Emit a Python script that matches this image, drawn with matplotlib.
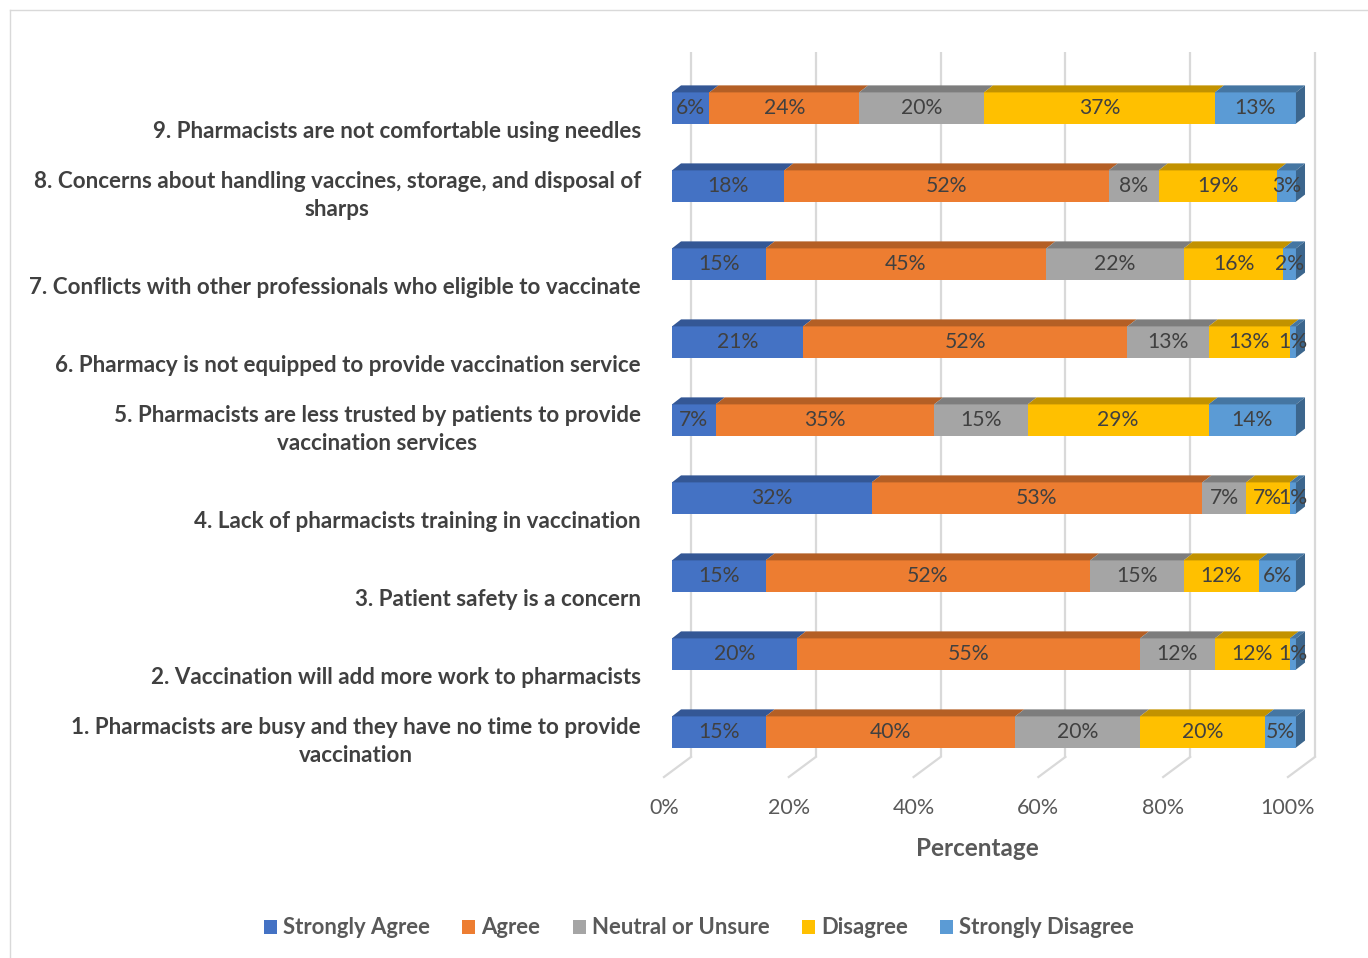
import matplotlib
matplotlib.use("Agg")
import matplotlib.pyplot as plt
from matplotlib.patches import Polygon, Patch
from matplotlib.colors import to_rgb
import numpy as np

# Survey items, bottom (1) to top (9)
items = [
    "1. Pharmacists are busy and they have no time to provide\nvaccination",
    "2. Vaccination will add more work to pharmacists",
    "3. Patient safety is a concern",
    "4. Lack of pharmacists training in vaccination",
    "5. Pharmacists are less trusted by patients to provide\nvaccination services",
    "6. Pharmacy is not equipped to provide vaccination service",
    "7. Conflicts with other professionals who eligible to vaccinate",
    "8. Concerns about handling vaccines, storage, and disposal of\nsharps",
    "9. Pharmacists are not comfortable using needles",
]
series_names = ["Strongly Agree", "Agree", "Neutral or Unsure", "Disagree", "Strongly Disagree"]
strongly_agree = [15, 20, 15, 32, 7, 21, 15, 18, 6]
agree = [40, 55, 52, 53, 35, 52, 45, 52, 24]
neutral = [20, 12, 15, 7, 15, 13, 22, 8, 20]
disagree = [20, 12, 12, 7, 29, 13, 16, 19, 37]
strongly_disagree = [5, 1, 6, 1, 14, 1, 2, 3, 13]
x_ticks = [0, 20, 40, 60, 80, 100]

colors = ["#4472C4", "#ED7D31", "#A5A5A5", "#FFC000", "#5B9BD5"]


def shade(c, f):
    r, g, b = to_rgb(c)
    return (r * f, g * f, b * f)


plt.rcParams['font.family'] = ['Lato', 'DejaVu Sans']

fig = plt.figure(figsize=(13.68, 9.58), dpi=100)
ax = fig.add_axes([659.5 / 1368, 1 - 810 / 958, 673.9 / 1368, 780 / 958])
ax.set_xlim(-2, 106)
ax.set_ylim(-1, 9)
ax.axis('off')

# 3D-ish offsets in data units
bar_h = 0.4
bdx, bdy = 1.45, 0.09          # bar depth
back_dx, front_dx = 3.05, -1.28
floor_back_y, floor_front_y, wall_top = -0.32, -0.577, 8.72
grid_col = "#D9D9D9"

# back wall gridlines and floor lines
for t in x_ticks:
    ax.plot([t + back_dx, t + back_dx], [floor_back_y, wall_top], color=grid_col, lw=1.6, zorder=0.5,
            solid_capstyle='butt')
    ax.plot([t + back_dx, t + front_dx], [floor_back_y, floor_front_y], color=grid_col, lw=1.6, zorder=0.5)
    ax.text(t + front_dx, -0.975, f"{t}%", ha='center', va='center', fontsize=15.5, color="#595959")

ax.text(48.9, -1.5, "Percentage", ha='center', va='center', fontsize=17.5,
        fontweight='bold', color="#595959", clip_on=False)

data = np.array([strongly_agree, agree, neutral, disagree, strongly_disagree], dtype=float)
ypos = np.arange(len(items))
lefts = np.zeros(len(items))
for k in range(len(series_names)):
    vals = data[k]
    ax.barh(ypos, vals, left=lefts, height=bar_h, color=colors[k], zorder=2, linewidth=0)
    for i, (l, w) in enumerate(zip(lefts, vals)):
        top = i + bar_h / 2
        ax.add_patch(Polygon([(l, top), (l + w, top), (l + w + bdx, top + bdy), (l + bdx, top + bdy)],
                             closed=True, facecolor=shade(colors[k], 0.76), edgecolor='none', zorder=2))
        ax.text(l + w / 2, i, f"{int(w)}%", ha='center', va='center', fontsize=15.2,
                color="#404040", zorder=4)
    lefts = lefts + vals

# right side face of each bar
for i in ypos:
    r = lefts[i]
    bot, top = i - bar_h / 2, i + bar_h / 2
    ax.add_patch(Polygon([(r, bot), (r, top), (r + bdx, top + bdy), (r + bdx, bot + bdy)],
                         closed=True, facecolor=shade(colors[-1], 0.66), edgecolor='none', zorder=3))

# category labels
for i, lab in enumerate(items):
    ax.text(-4.97, i - 0.39, lab, ha='right', va='baseline', multialignment='center',
            fontsize=16.1, fontweight='bold', color="#404040", linespacing=1.46, clip_on=False)

handles = [Patch(facecolor=c, edgecolor='none') for c in colors]
fig.legend(handles, series_names, loc='center', bbox_to_anchor=(699 / 1368, 1 - 928 / 958), ncol=5,
           frameon=False, handlelength=0.6, handleheight=0.6, handletextpad=0.28, columnspacing=1.45,
           prop={'weight': 'bold', 'size': 15.9}, labelcolor="#595959")

# chart border
fig.add_artist(plt.Line2D([10 / 1368, 1], [1 - 10 / 958, 1 - 10 / 958], color=grid_col, lw=1,
                          transform=fig.transFigure))
fig.add_artist(plt.Line2D([10 / 1368, 10 / 1368], [0, 1 - 10 / 958], color=grid_col, lw=1,
                          transform=fig.transFigure))

fig.savefig("out.png", dpi=100, facecolor='white')
